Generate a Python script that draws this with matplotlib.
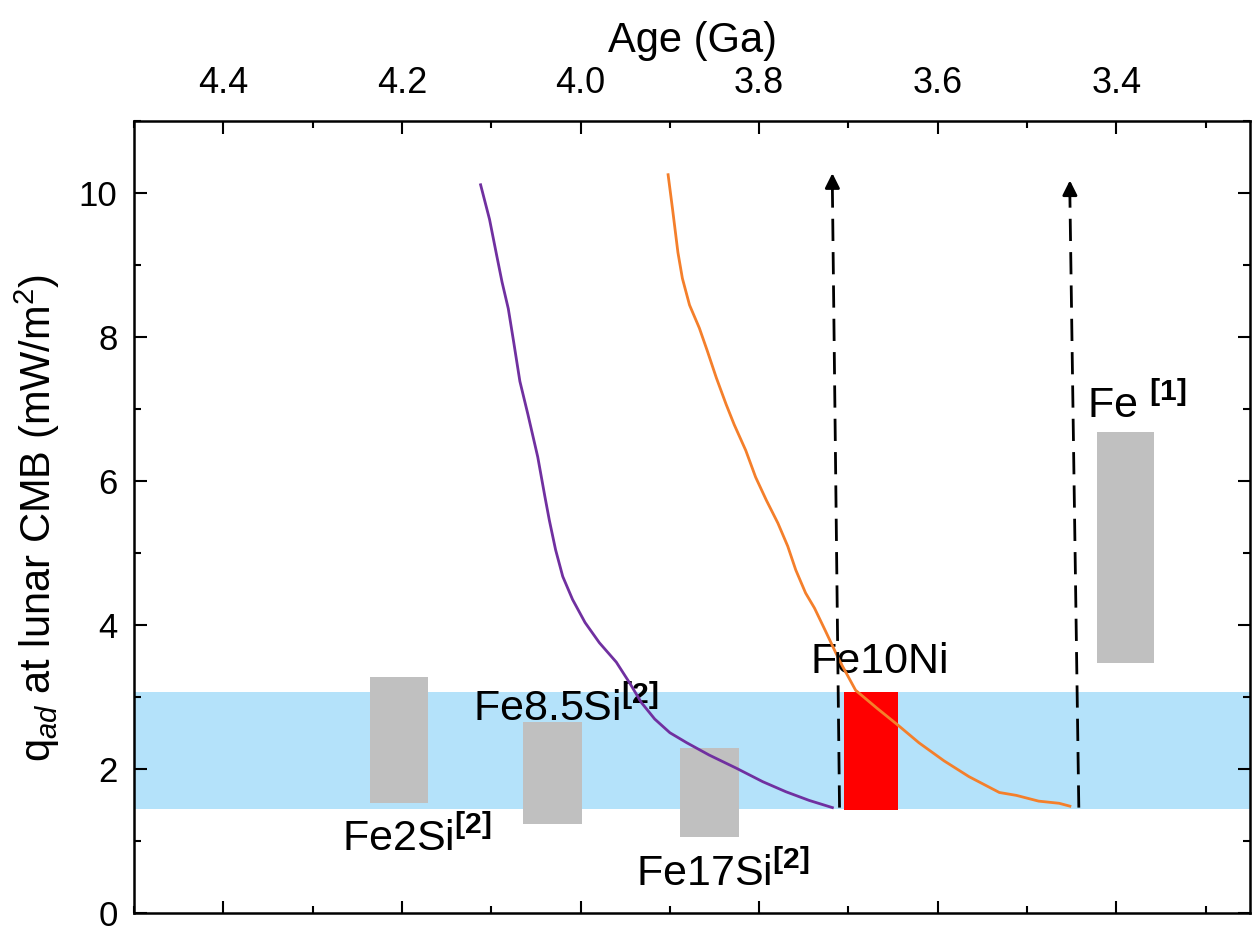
import matplotlib
matplotlib.use("Agg")
import matplotlib.pyplot as plt
from matplotlib.ticker import MultipleLocator, FormatStrFormatter

plt.rcParams["font.family"] = ["Liberation Sans", "DejaVu Sans"]
plt.rcParams["mathtext.fontset"] = "custom"
plt.rcParams["mathtext.rm"] = "Liberation Sans"
plt.rcParams["mathtext.it"] = "Liberation Sans:italic"
plt.rcParams["mathtext.bf"] = "Liberation Sans:bold"

# purple model curve (age in Ga, q_ad in mW/m^2)
purple_age = [4.112, 4.102, 4.094, 4.088, 4.081, 4.075, 4.068, 4.059, 4.048, 4.040,
              4.035, 4.028, 4.020, 4.009, 3.995, 3.979, 3.960, 3.945, 3.932, 3.917,
              3.900, 3.881, 3.856, 3.826, 3.796, 3.770, 3.744, 3.718]
purple_q = [10.12, 9.64, 9.14, 8.77, 8.40, 7.94, 7.39, 6.93, 6.34, 5.79,
            5.46, 5.05, 4.68, 4.36, 4.04, 3.76, 3.49, 3.20, 2.93, 2.70,
            2.51, 2.37, 2.20, 2.02, 1.83, 1.69, 1.57, 1.47]

# orange model curve
orange_age = [3.902, 3.897, 3.891, 3.886, 3.878, 3.867, 3.858, 3.848, 3.837, 3.828,
              3.815, 3.804, 3.792, 3.779, 3.768, 3.759, 3.748, 3.738, 3.726, 3.710,
              3.692, 3.668, 3.645, 3.621, 3.593, 3.565, 3.531, 3.512, 3.487, 3.464,
              3.452]
orange_q = [10.26, 9.78, 9.18, 8.82, 8.45, 8.13, 7.81, 7.44, 7.07, 6.79,
            6.43, 6.06, 5.74, 5.42, 5.10, 4.77, 4.45, 4.24, 3.93, 3.51,
            3.10, 2.85, 2.62, 2.37, 2.12, 1.90, 1.68, 1.64, 1.56, 1.53,
            1.49]

# dashed arrows: age at bottom, age at top, q bottom, q top
arrow_age_bot = [3.710, 3.442]
arrow_age_top = [3.718, 3.452]
arrow_q_bot = [1.47, 1.47]
arrow_q_top = [10.32, 10.22]

# constraint band
band_lo, band_hi = 1.45, 3.07

# boxes from other studies
box_names = ["Fe2Si", "Fe8.5Si", "Fe17Si", "Fe10Ni", "Fe"]
box_age = [4.2035, 4.0315, 3.856, 3.675, 3.390]
box_width = [0.065, 0.067, 0.066, 0.060, 0.064]
box_lo = [1.54, 1.24, 1.06, 1.43, 3.48]
box_hi = [3.29, 2.66, 2.30, 3.07, 6.68]
box_colors = ["#c0c0c0", "#c0c0c0", "#c0c0c0", "#ff0000", "#c0c0c0"]

labels = [r"Fe2Si$^{\mathbf{[2]}}$", r"Fe8.5Si$^{\mathbf{[2]}}$", r"Fe17Si$^{\mathbf{[2]}}$",
          "Fe10Ni", r"Fe $^{\mathbf{[1]}}$"]
label_age = [4.183, 4.017, 3.841, 3.665, 3.377]
label_q = [1.04, 2.84, 0.56, 3.49, 7.05]

fig = plt.figure(figsize=(12.54, 9.34), dpi=100)
ax = fig.add_axes([0.107, 0.022, 0.89, 0.848])

ax.axhspan(band_lo, band_hi, color="#b4e2fa", zorder=0, lw=0)
heights = [h - l for h, l in zip(box_hi, box_lo)]
ax.bar(box_age, heights, width=box_width, bottom=box_lo, color=box_colors, zorder=1)

for name, a, q in zip(labels, label_age, label_q):
    ax.text(a, q, name, fontsize=31, ha="center", va="center", zorder=2)

ax.plot(purple_age, purple_q, color="#7030a0", lw=2, zorder=3)
ax.plot(orange_age, orange_q, color="#f47f2b", lw=2, zorder=3)

for ab, at, qb, qt in zip(arrow_age_bot, arrow_age_top, arrow_q_bot, arrow_q_top):
    ax.plot([ab, at], [qb, qt - 0.25], color="k", lw=2, dashes=(8, 4), zorder=4)
    ax.annotate("", xy=(at, qt), xytext=(at, qt - 0.3),
                arrowprops=dict(arrowstyle="-|>", color="k", lw=2, mutation_scale=22),
                zorder=4)

ax.set_xlim(4.5, 3.25)
ax.set_ylim(0, 11)
ax.xaxis.set_major_locator(MultipleLocator(0.2))
ax.xaxis.set_minor_locator(MultipleLocator(0.1))
ax.yaxis.set_major_locator(MultipleLocator(2))
ax.yaxis.set_minor_locator(MultipleLocator(1))
ax.xaxis.set_major_formatter(FormatStrFormatter("%.1f"))

ax.tick_params(axis="both", which="both", direction="in", top=True, bottom=True,
               left=True, right=True, labeltop=True, labelbottom=False, width=1.5)
ax.tick_params(axis="x", which="major", length=9, pad=15, labelsize=26)
ax.tick_params(axis="y", which="major", length=9, pad=12, labelsize=25)
ax.tick_params(which="minor", length=5)
for s in ax.spines.values():
    s.set_linewidth(1.8)

ax.xaxis.set_label_position("top")
ax.set_xlabel("Age (Ga)", fontsize=30, labelpad=10)
ax.set_ylabel(r"q$_{ad}$ at lunar CMB (mW/m$^2$)", fontsize=30, labelpad=12)

fig.savefig("out.png", dpi=100)
